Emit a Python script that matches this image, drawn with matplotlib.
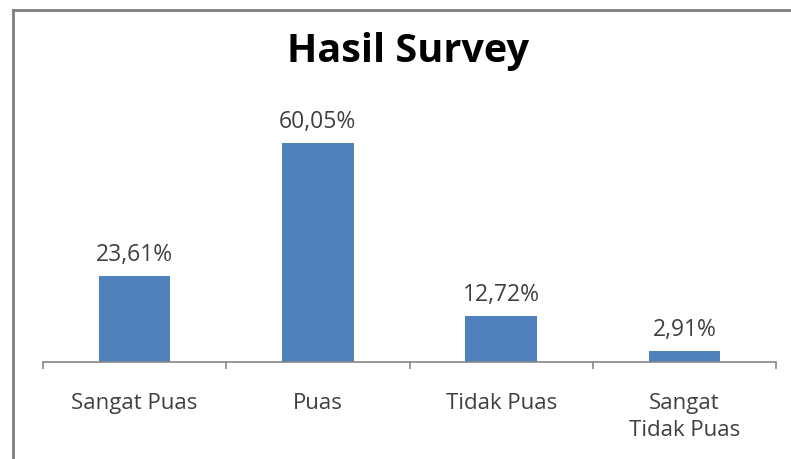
import matplotlib.pyplot as plt
from matplotlib.lines import Line2D

# survey results
categories = ['Sangat Puas', 'Puas', 'Tidak Puas', 'Sangat\nTidak Puas']
percent = [23.61, 60.05, 12.72, 2.91]
labels = ['23,61%', '60,05%', '12,72%', '2,91%']

plt.rcParams['font.family'] = ['Open Sans', 'DejaVu Sans']

W, H = 791, 459
fig = plt.figure(figsize=(W / 100, H / 100), dpi=100)
ax = fig.add_axes([43 / W, 1 - 362 / H, (776 - 43) / W, (362 - 107) / H])

x = range(len(categories))
ax.bar(x, percent, width=0.39, color='#4F81BD')
for xi, v, lab in zip(x, percent, labels):
    ax.annotate(lab, (xi, v), xytext=(0, 6.5), textcoords='offset points',
                ha='center', va='bottom', fontsize=16.5, color='#404040')

ax.set_xlim(-0.5, len(categories) - 0.5)
ax.set_ylim(0, 70)
ax.set_yticks([])
ax.set_xticks(list(x))
ax.set_xticklabels(categories, fontsize=16, color='#404040', linespacing=1.4)
ax.tick_params(axis='x', which='major', length=0, pad=22)
ax.set_xticks([i - 0.5 for i in range(len(categories) + 1)], minor=True)
ax.tick_params(axis='x', which='minor', length=5, width=1.2, color='#868686')

for s in ['top', 'right', 'left']:
    ax.spines[s].set_visible(False)
ax.spines['bottom'].set_color('#868686')
ax.spines['bottom'].set_linewidth(1.2)

fig.text(408 / W, 1 - 62 / H, 'Hasil Survey', ha='center', va='baseline',
         fontsize=28.5, fontweight='bold', color='black')

# chart frame (runs off the right and bottom edges)
fig.add_artist(Line2D([13 / W, 13 / W], [0, 1 - 10 / H], transform=fig.transFigure,
                      color='#7f7f7f', linewidth=2))
fig.add_artist(Line2D([13 / W, 1], [1 - 10 / H, 1 - 10 / H], transform=fig.transFigure,
                      color='#7f7f7f', linewidth=2))

fig.savefig('out.png', dpi=100)
